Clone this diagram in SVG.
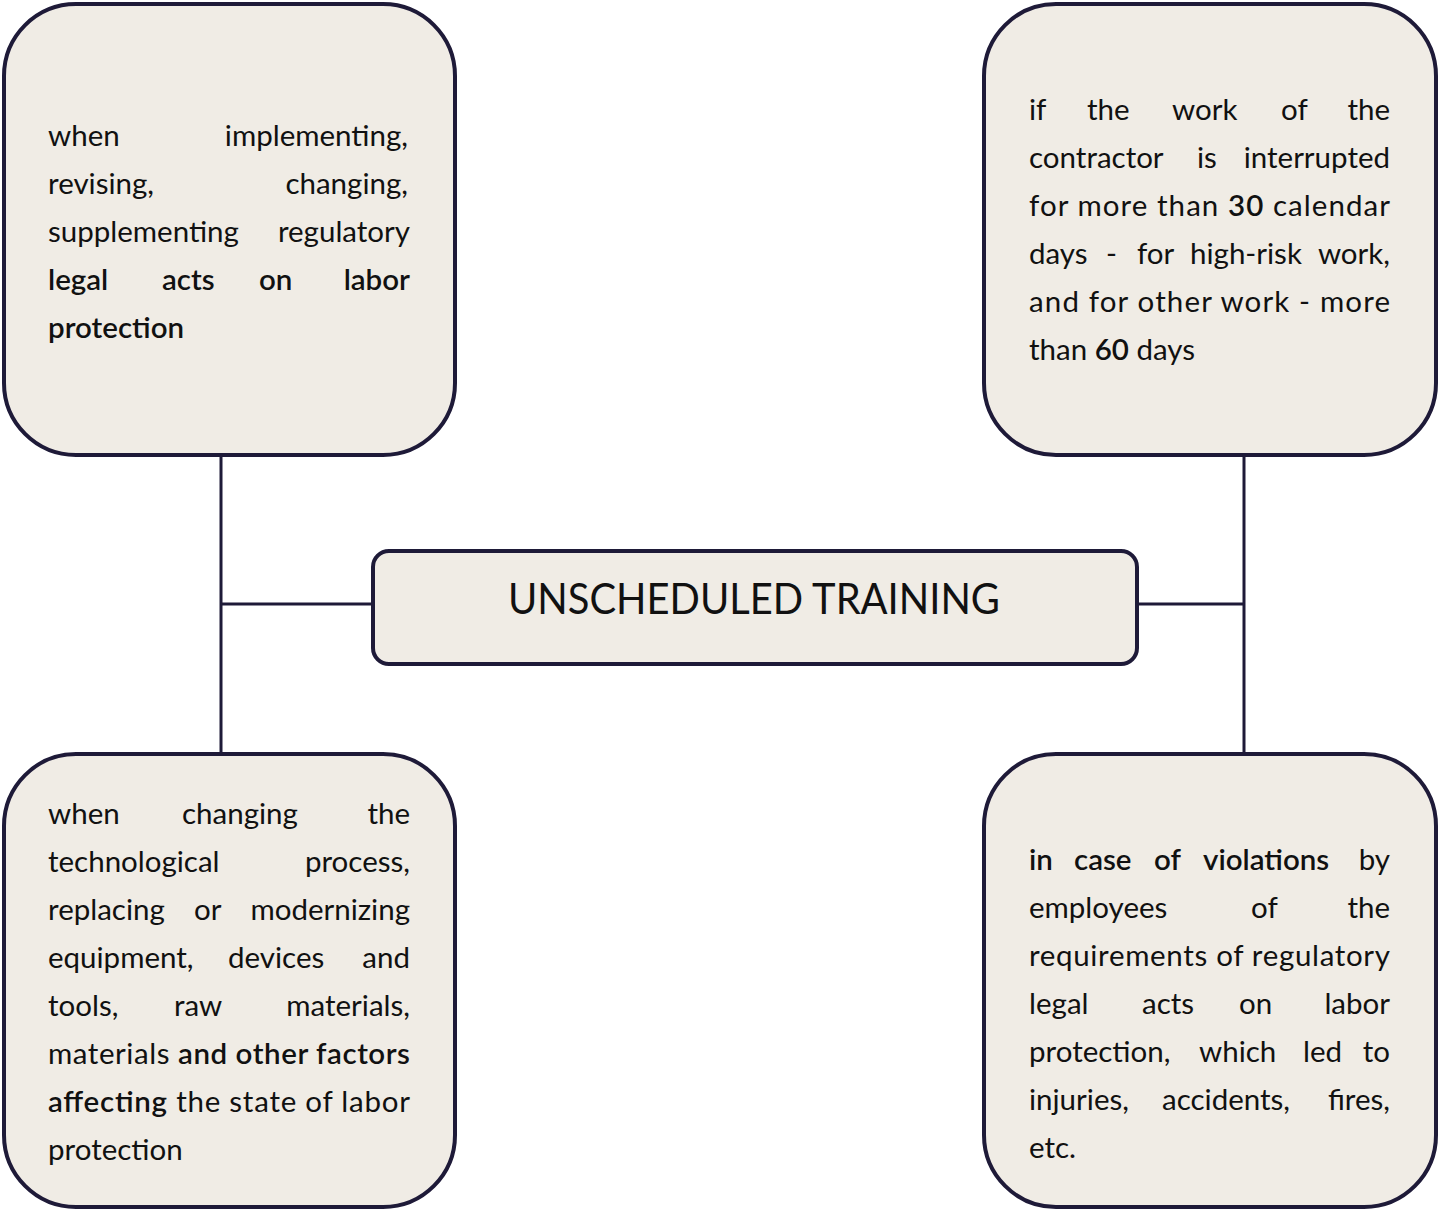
<svg xmlns="http://www.w3.org/2000/svg" width="1440" height="1211" viewBox="0 0 1440 1211">
<style>
.box{fill:#f0ece5;stroke:#1e1a38;stroke-width:4}
.con{fill:none;stroke:#1e1a38;stroke-width:3}
.t{font-family:Lato,"Open Sans","Liberation Sans",sans-serif;font-size:29.5px;fill:#111;font-weight:400}
.b{font-weight:600}
.e{text-anchor:end}
.title{font-family:Lato,"Open Sans","Liberation Sans",sans-serif;font-size:43px;fill:#111;font-weight:400}
</style>
<rect width="1440" height="1211" fill="#ffffff"/>
<g id="connectors">
<path class="con" d="M221 457 V752 M221 604 H373"/>
<path class="con" d="M1244 457 V752 M1137 604 H1244"/>
</g>
<g id="center">
<rect class="box" x="373" y="551" width="764" height="113" rx="16"/>
<text class="title" x="508" y="614" textLength="492" lengthAdjust="spacingAndGlyphs">UNSCHEDULED TRAINING</text>
</g>
<g id="top-left">
<rect class="box" x="4" y="4" width="451" height="451" rx="72"/>
<text class="t" x="48" y="146">when</text>
<text class="t e" x="408" y="146">implementing,</text>
<text class="t" x="48" y="194">revising,</text>
<text class="t e" x="408" y="194">changing,</text>
<text class="t" x="48" y="242">supplementing</text>
<text class="t e" x="410" y="242">regulatory</text>
<text class="t b" x="48" y="290">legal</text>
<text class="t b" x="162" y="290">acts</text>
<text class="t b" x="259" y="290">on</text>
<text class="t b e" x="410" y="290">labor</text>
<text class="t b" x="48" y="338">protection</text>
</g>
<g id="top-right">
<rect class="box" x="984" y="4" width="452" height="451" rx="72"/>
<text class="t" x="1029" y="120">if</text>
<text class="t" x="1087" y="120">the</text>
<text class="t" x="1172" y="120">work</text>
<text class="t" x="1281" y="120">of</text>
<text class="t e" x="1390" y="120">the</text>
<text class="t" x="1029" y="168">contractor</text>
<text class="t" x="1197" y="168">is</text>
<text class="t e" x="1390" y="168">interrupted</text>
<text class="t" x="1029" y="216" textLength="361" lengthAdjust="spacing">for more than <tspan class="b">30</tspan> calendar</text>
<text class="t" x="1029" y="264">days</text>
<text class="t" x="1106" y="264">-</text>
<text class="t" x="1137" y="264">for</text>
<text class="t" x="1190" y="264">high-risk</text>
<text class="t e" x="1390" y="264">work,</text>
<text class="t" x="1029" y="312" textLength="361" lengthAdjust="spacing">and for other work - more</text>
<text class="t" x="1029" y="360">than <tspan class="b">60</tspan> days</text>
</g>
<g id="bottom-left">
<rect class="box" x="4" y="754" width="451" height="453" rx="72"/>
<text class="t" x="48" y="824">when</text>
<text class="t" x="182" y="824">changing</text>
<text class="t e" x="410" y="824">the</text>
<text class="t" x="48" y="872">technological</text>
<text class="t e" x="410" y="872">process,</text>
<text class="t" x="48" y="920">replacing</text>
<text class="t" x="194" y="920">or</text>
<text class="t e" x="410" y="920">modernizing</text>
<text class="t" x="48" y="968">equipment,</text>
<text class="t" x="228" y="968">devices</text>
<text class="t e" x="410" y="968">and</text>
<text class="t" x="48" y="1016">tools,</text>
<text class="t" x="174" y="1016">raw</text>
<text class="t e" x="410" y="1016">materials,</text>
<text class="t" x="48" y="1064" textLength="362" lengthAdjust="spacing">materials <tspan class="b">and other factors</tspan></text>
<text class="t" x="48" y="1112" textLength="362" lengthAdjust="spacing"><tspan class="b">affecting</tspan> the state of labor</text>
<text class="t" x="48" y="1160">protection</text>
</g>
<g id="bottom-right">
<rect class="box" x="984" y="754" width="452" height="453" rx="72"/>
<text class="t b" x="1029" y="870">in</text>
<text class="t b" x="1074" y="870">case</text>
<text class="t b" x="1154" y="870">of</text>
<text class="t b" x="1203" y="870">violations</text>
<text class="t e" x="1390" y="870">by</text>
<text class="t" x="1029" y="918">employees</text>
<text class="t" x="1251" y="918">of</text>
<text class="t e" x="1390" y="918">the</text>
<text class="t" x="1029" y="966" textLength="361" lengthAdjust="spacing">requirements of regulatory</text>
<text class="t" x="1029" y="1014">legal</text>
<text class="t" x="1142" y="1014">acts</text>
<text class="t" x="1239" y="1014">on</text>
<text class="t e" x="1390" y="1014">labor</text>
<text class="t" x="1029" y="1062">protection,</text>
<text class="t" x="1199" y="1062">which</text>
<text class="t" x="1303" y="1062">led</text>
<text class="t e" x="1390" y="1062">to</text>
<text class="t" x="1029" y="1110">injuries,</text>
<text class="t" x="1162" y="1110">accidents,</text>
<text class="t e" x="1390" y="1110">fires,</text>
<text class="t" x="1029" y="1158">etc.</text>
</g>
</svg>
